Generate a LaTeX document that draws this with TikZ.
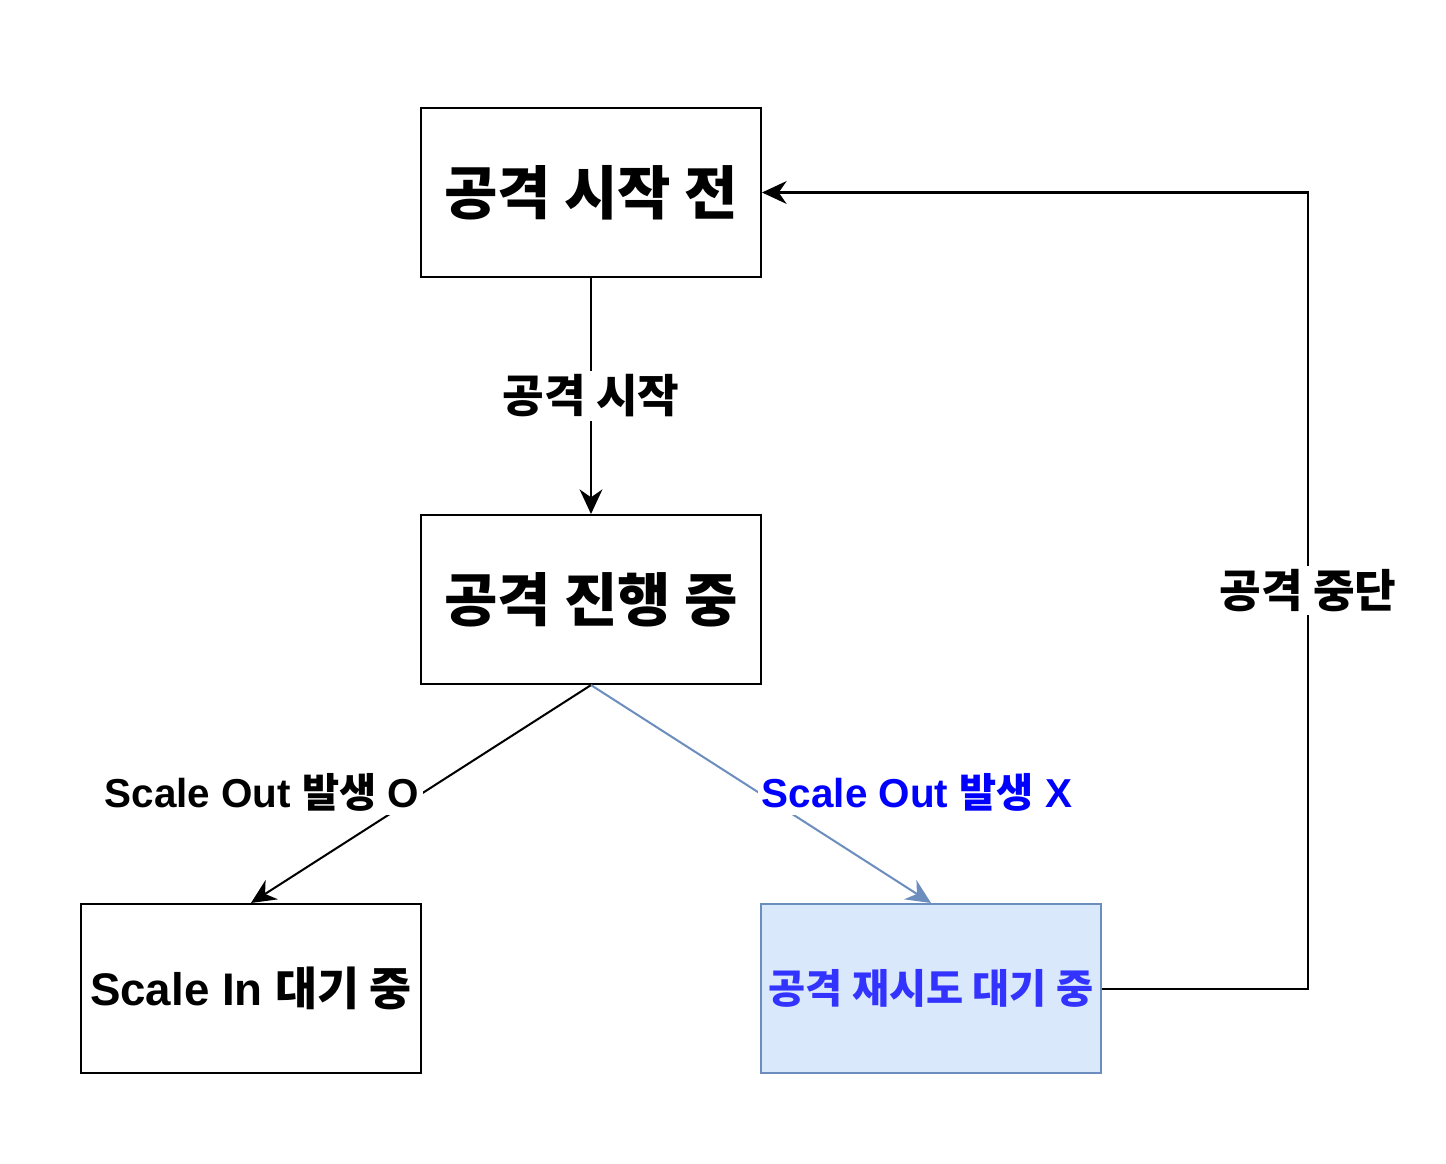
\documentclass[tikz,border=0pt]{standalone}
\usepackage{fontspec}
\setmainfont{Liberation Sans}
\newfontfamily\krfont[Scale=1.12]{Noto Sans CJK KR}
\newfontfamily\krmix{Noto Sans CJK KR}
\usetikzlibrary{positioning}
\usetikzlibrary{arrows.meta}
\definecolor{retryfill}{HTML}{DAE8FC}
\definecolor{retryline}{HTML}{6C8EBF}
\definecolor{retrytext}{HTML}{3333FF}
\definecolor{labelblue}{HTML}{0000FF}
\tikzset{
  state/.style={draw, line width=1.2pt, minimum width=6.8cm, minimum height=3.38cm, inner sep=1pt, font=\fontsize{29.5}{34}\selectfont\bfseries},
  flow/.style={line width=1.15pt, -{Stealth[length=14pt, width=13pt, inset=4.5pt]}},
  edgelabel/.style={fill=white, inner sep=2pt, font=\fontsize{23}{27}\selectfont\bfseries}
}

\begin{document}
\begin{tikzpicture}[x=0.02cm, y=-0.02cm]
		\useasboundingbox (0,0) rectangle (1446,1163);
		\node [state] at (591,192.5) (before) {\krfont 공격 시작 전};
		\node [state, below=4.72cm of before] (during) {\krfont 공격 진행 중};
		\node [state, font=\fontsize{26}{31}\selectfont\bfseries] at (251,988.5) (scalein) {Scale In {\krmix 대기 중}};
		\node [state, fill=retryfill, draw=retryline, text=retrytext, font=\fontsize{20.5}{25}\selectfont\bfseries] at (931,988.5) (retry) {\krfont 공격 재시도 대기 중};
		\coordinate (turn) at (1308,988.5);
		\draw [flow] (before) -- node [edgelabel] {\krfont 공격 시작} (during);
		\draw [flow] (during.south) -- (scalein.north);
		\draw [flow, draw=retryline, fill=retryline] (during.south) -- (retry.north);
		\node [edgelabel] at (262,792) (outyes) {Scale Out {\krmix 발생} O};
		\node [edgelabel, text=labelblue] at (917,792) (outno) {Scale Out {\krmix 발생} X};
		\draw [flow] (retry.east) -- (turn) |- node [pos=0.25, edgelabel] {\krfont 공격 중단} (before.east);
		\end{tikzpicture}
\end{document}
